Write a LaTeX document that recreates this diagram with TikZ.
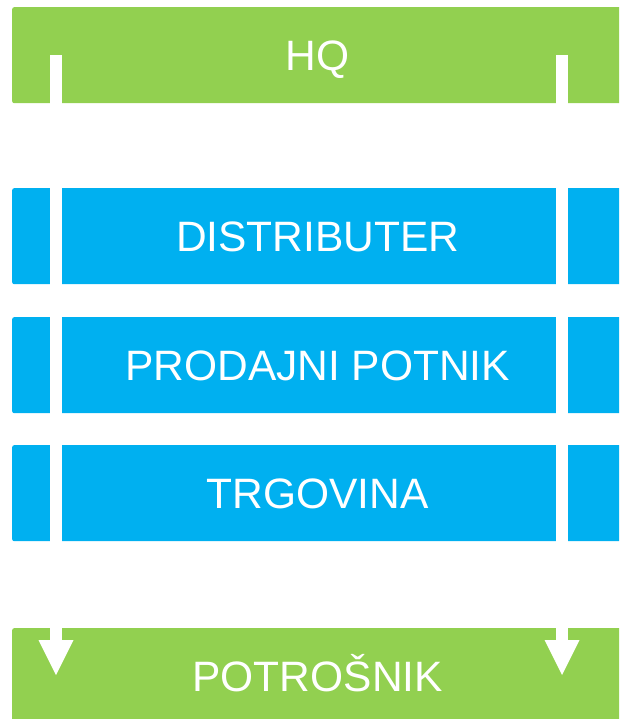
\documentclass[tikz,border=0pt]{standalone}
\usepackage{fontspec}
\setmainfont{Liberation Sans}
\usetikzlibrary{arrows.meta}
\definecolor{hqgreen}{HTML}{92D050}
\definecolor{lvlblue}{HTML}{00B0F0}
\begin{document}
\begin{tikzpicture}[x=1pt,y=-1pt,
  bar/.style={rectangle, rounded corners=2pt, minimum width=611pt, minimum height=96pt,
    inner sep=0pt, text=white, font=\fontsize{42.5}{42.5}\selectfont,
    text height=30.4pt, text depth=0pt, anchor=north west},
  greenbar/.style={bar, fill=hqgreen},
  bluebar/.style={bar, fill=lvlblue},
  flow/.style={draw=white, line width=12pt,
    -{Triangle[width=35pt,length=35pt,line width=0pt,fill=white]}}]
\useasboundingbox (0,0) rectangle (619,719);
\clip (0,0) rectangle (619,719);
\node[greenbar] (hq) at (12,7) {HQ};
\node[bluebar] (dist) at (12,188) {DISTRIBUTER};
\node[bluebar] (prod) at (12,317) {PRODAJNI POTNIK};
\node[bluebar] (trg) at (12,445) {TRGOVINA};
\node[greenbar] (potr) at (12,628) {POTROŠNIK};
\coordinate (ls) at (56,55);
\coordinate (le) at (56,675);
\coordinate (rs) at (562,55);
\coordinate (re) at (562,675);
\draw[flow] (ls) -- (le);
\draw[flow] (rs) -- (re);
\end{tikzpicture}
\end{document}
